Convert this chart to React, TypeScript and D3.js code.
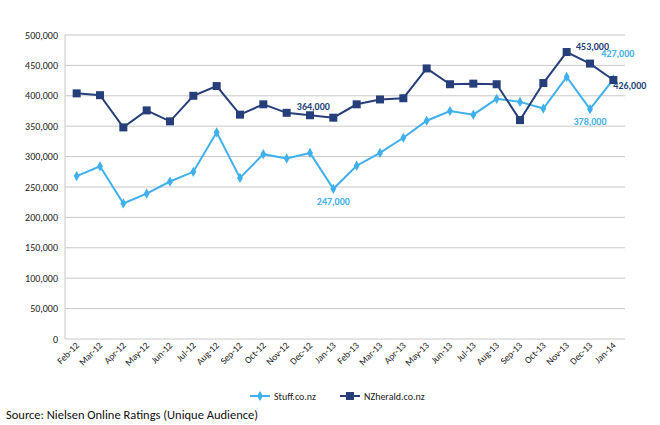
import React from 'react'
import * as d3 from 'd3'

const months = ['Feb-12','Mar-12','Apr-12','May-12','Jun-12','Jul-12','Aug-12','Sep-12','Oct-12','Nov-12','Dec-12','Jan-13','Feb-13','Mar-13','Apr-13','May-13','Jun-13','Jul-13','Aug-13','Sep-13','Oct-13','Nov-13','Dec-13','Jan-14']
const stuff = [268000,284000,223000,239000,259000,275000,340000,265000,304000,297000,306000,247000,285000,306000,331000,359000,375000,369000,395000,390000,379000,431000,378000,427000]
const herald = [404000,401000,348000,376000,358000,400000,416000,369000,386000,372000,368000,364000,386000,394000,396000,445000,419000,420000,419000,360000,421000,472000,453000,426000]
const yTicks = d3.range(0, 500001, 50000)

const STUFF = '#3fb0ec'
const HERALD = '#263f7a'
const font = 'Calibri, Carlito, "Open Sans", sans-serif'

export default function App() {
  const x = d3.scaleBand<string>().domain(months).range([65, 625])
  const y = d3.scaleLinear().domain([0, 500000]).range([339, 35])
  const cx = (i: number) => (x(months[i]) ?? 0) + x.bandwidth() / 2
  const line = d3.line<number>().x((_, i) => cx(i)).y(d => y(d))
  const fmt = d3.format(',')
  const diamond = d3.symbol(d3.symbolDiamond, 30)()

  const labels = [
    { i: 11, v: stuff[11], c: STUFF, dx: 0, dy: 16, a: 'middle' },
    { i: 22, v: stuff[22], c: STUFF, dx: 0, dy: 16, a: 'middle' },
    { i: 23, v: stuff[23], c: STUFF, dx: -12, dy: -22, a: 'start' },
    { i: 11, v: herald[11], c: HERALD, dx: -20, dy: -8, a: 'middle' },
    { i: 22, v: herald[22], c: HERALD, dx: -14, dy: -14, a: 'start' },
    { i: 23, v: herald[23], c: HERALD, dx: 0, dy: 9, a: 'start' },
  ]

  return (
    <svg width={660} height={425} style={{ display: 'block', position: 'absolute', left: 0, top: 0 }} fontFamily={font}>
      <rect width={660} height={425} fill="#fff" />
      {yTicks.map(t => (
        <g key={t}>
          <line x1={65} x2={625} y1={y(t)} y2={y(t)} stroke="#c8c8c8" strokeWidth={1} />
          <text x={58} y={y(t) + 3.5} textAnchor="end" fontSize={10} fill="#222">{fmt(t)}</text>
        </g>
      ))}
      <line x1={65} x2={65} y1={35} y2={339} stroke="#c8c8c8" />
      {months.map((m, i) => (
        <text key={m} transform={`translate(${cx(i) + 3},${346}) rotate(-45)`} textAnchor="end" fontSize={9.5} fill="#222">{m}</text>
      ))}
      <path d={line(stuff) ?? ''} fill="none" stroke={STUFF} strokeWidth={2} />
      {stuff.map((v, i) => <path key={i} d={diamond ?? ''} transform={`translate(${cx(i)},${y(v)})`} fill={STUFF} />)}
      <path d={line(herald) ?? ''} fill="none" stroke={HERALD} strokeWidth={2} />
      {herald.map((v, i) => <rect key={i} x={cx(i) - 4} y={y(v) - 4} width={8} height={8} fill={HERALD} />)}
      {labels.map((l, k) => (
        <text key={k} x={cx(l.i) + l.dx} y={y(l.v) + l.dy} textAnchor={l.a as any} fontSize={10} fontWeight="bold" fill={l.c}>{fmt(l.v)}</text>
      ))}
      <g transform="translate(250,396)">
        <line x1={0} x2={20} y1={0} y2={0} stroke={STUFF} strokeWidth={2} />
        <path d={diamond ?? ''} transform="translate(10,0)" fill={STUFF} />
        <text x={24} y={3.5} fontSize={10} fill="#222">Stuff.co.nz</text>
        <line x1={90} x2={110} y1={0} y2={0} stroke={HERALD} strokeWidth={2} />
        <rect x={96} y={-4} width={8} height={8} fill={HERALD} />
        <text x={114} y={3.5} fontSize={10} fill="#222">NZherald.co.nz</text>
      </g>
      <text x={6} y={419} fontSize={12.5} fill="#111">Source: Nielsen Online Ratings (Unique Audience)</text>
    </svg>
  )
}
